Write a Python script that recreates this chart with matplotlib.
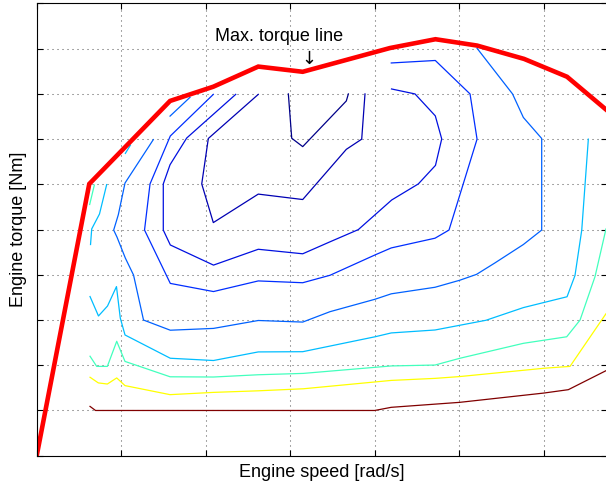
import matplotlib.pyplot as plt

plt.rcParams['font.family'] = ['Liberation Sans', 'DejaVu Sans']

# Max torque curve (engine speed [rad/s], torque [Nm])
speed_max = [0, 62.2, 157.8, 209.0, 262.2, 314.8, 418.0, 471.9, 521.1, 576.7, 627.6, 673.7]
torque_max = [0, 120.2, 156.9, 163.2, 172.1, 169.8, 180.3, 184.2, 181.4, 175.5, 167.6, 153.1]

# Efficiency contours, from the inner (best) to the outer ones
c1_x = [297.8, 301.8, 314.8, 366.4, 368.8]
c1_y = [160.0, 140.4, 136.7, 156.9, 160.0]

c2_x = [262.2, 203.1, 195.3, 209.0, 262.2, 314.8, 366.4, 384.6, 388.5]
c2_y = [159.8, 140.3, 120.2, 103.1, 115.7, 113.3, 135.5, 140.0, 160.0]

c3_x = [235.5, 177.5, 157.8, 149.8, 149.8, 158.1, 209.2, 262.2, 314.8, 347.1,
        380.6, 420.1, 451.6, 471.9, 479.3, 471.7, 447.7, 419.9]
c3_y = [159.8, 140.5, 128.7, 120.2, 99.8, 93.2, 84.3, 91.3, 89.3, 94.6,
        100.0, 113.1, 120.2, 128.4, 140.1, 150.3, 160.0, 162.2]

c4_x = [209.0, 158.1, 134.1, 127.6, 158.1, 209.2, 262.2, 314.8, 347.1, 400.4,
        419.6, 471.4, 487.9, 521.1, 512.8, 471.7, 419.6]
c4_y = [159.8, 141.4, 120.2, 99.8, 76.2, 72.6, 77.3, 76.5, 79.8, 88.8,
        91.9, 96.2, 99.8, 140.0, 160.0, 174.8, 173.7]

c5_x = [138.0, 104.5, 96.6, 91.1, 95.0, 104.9, 114.6, 126.4, 158.1, 209.2,
        262.2, 314.8, 347.1, 400.4, 419.6, 471.4, 500.6, 520.5, 542.0, 575.9,
        597.6, 597.6, 575.9, 563.1, 521.1]
c5_y = [139.8, 120.6, 106.6, 99.8, 96.7, 87.4, 79.9, 60.0, 55.5, 56.3,
        59.8, 59.1, 63.7, 69.2, 71.6, 74.5, 77.6, 80.2, 85.2, 93.4,
        99.8, 140.3, 149.6, 160.0, 180.2]
c5b_x = [157.8, 181.4]
c5b_y = [150.2, 158.5]

c6_x = [63.1, 73.1, 83.8, 94.4, 98.9, 104.5, 158.1, 209.2, 262.2, 314.8,
        400.4, 419.6, 471.4, 531.7, 575.9, 627.6, 637.0, 645.0, 652.8]
c6_y = [70.4, 61.8, 66.2, 74.8, 60.9, 53.4, 43.1, 42.1, 45.9, 46.0,
        52.6, 54.3, 55.6, 59.9, 65.5, 70.3, 79.7, 99.8, 140.0]
c6b_x = [82.8, 74.3, 65.1, 63.7]
c6b_y = [119.9, 106.9, 100.3, 93.4]
c6c_x = [104.9, 110.8]
c6c_y = [133.7, 137.3]

c7_x = [63.1, 71.0, 83.6, 94.7, 104.5, 157.9, 209.2, 262.2, 315.5, 419.6,
        471.4, 500.9, 575.9, 627.2, 643.0, 660.7, 673.7]
c7_y = [44.0, 39.5, 39.5, 50.6, 41.7, 34.9, 34.8, 35.8, 36.4, 39.7,
        40.1, 43.1, 49.7, 52.6, 60.0, 79.2, 100.3]
c7b_x = [68.2, 62.7]
c7b_y = [119.7, 111.1]

c8_x = [63.1, 72.9, 83.6, 94.7, 104.5, 157.8, 209.0, 262.2, 315.5, 419.6,
        471.4, 500.6, 601.0, 631.1, 673.7]
c8_y = [34.7, 32.2, 31.7, 34.4, 31.0, 27.0, 28.0, 28.7, 29.6, 33.3,
        34.2, 35.0, 38.7, 39.5, 62.8]

c9_x = [63.1, 69.6, 400.0, 419.6, 500.6, 600.0, 629.1, 673.7]
c9_y = [21.8, 20.0, 20.0, 21.4, 23.6, 27.7, 29.2, 37.6]

contours = [
    (c1_x, c1_y, '#000088'),
    (c2_x, c2_y, '#0000b3'),
    (c3_x, c3_y, '#0010e0'),
    (c4_x, c4_y, '#002eff'),
    (c5_x, c5_y, '#0061ff'),
    (c5b_x, c5b_y, '#0061ff'),
    (c6_x, c6_y, '#00bdff'),
    (c6b_x, c6b_y, '#00bdff'),
    (c6c_x, c6c_y, '#00bdff'),
    (c7_x, c7_y, '#42ffbd'),
    (c7b_x, c7b_y, '#42ffbd'),
    (c8_x, c8_y, '#ffff00'),
    (c9_x, c9_y, '#800000'),
]

fig = plt.figure(figsize=(6.06, 4.86), dpi=100)
ax = fig.add_axes([36.7 / 606, (486 - 455.7) / 486, 570.4 / 606, 452.2 / 486])

for xs, ys, col in contours:
    ax.plot(xs, ys, color=col, linewidth=0.9)

ax.plot(speed_max, torque_max, color='#ff0000', linewidth=3.3, solid_joinstyle='miter')

ax.text(286.7, 185.2, 'Max. torque line', ha='center', va='center', fontsize=13)
ax.text(321.7, 175.5, '\u2193', ha='center', va='center', fontsize=13,
        family='DejaVu Sans')

ax.set_xlim(0, 675)
ax.set_ylim(0, 200)
ax.set_xticks(range(0, 675, 100))
ax.set_yticks(range(0, 201, 20))
ax.tick_params(direction='in', length=4, top=True, right=True,
               labelbottom=False, labelleft=False)
ax.grid(True, color='0.35', linewidth=0.75, linestyle=(0, (1, 3.8)))
ax.set_xlabel('Engine speed [rad/s]', fontsize=13, labelpad=6)
ax.set_ylabel('Engine torque [Nm]', fontsize=13, labelpad=7)

fig.savefig('out.png', dpi=100)
